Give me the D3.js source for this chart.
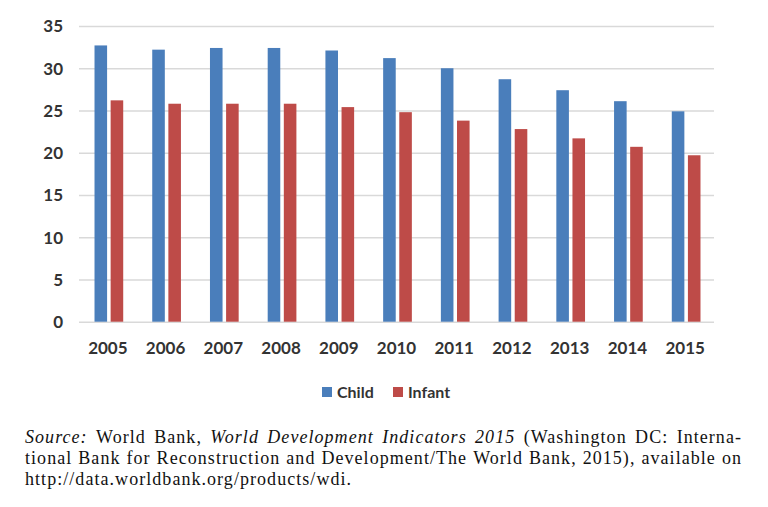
<!DOCTYPE html>
<html><head><meta charset="utf-8">
<script src="https://cdn.jsdelivr.net/npm/d3@7/dist/d3.min.js"></script>
<style>body{margin:0;background:#fff}svg{display:block}</style>
</head><body><svg id="c" width="768" height="507"></svg>
<script>
const years = ["2005","2006","2007","2008","2009","2010","2011","2012","2013","2014","2015"];
const child = [32.7,32.2,32.4,32.4,32.1,31.2,30.0,28.7,27.4,26.1,24.9];
const infant = [26.2,25.8,25.8,25.8,25.4,24.8,23.8,22.8,21.7,20.7,19.7];
const seriesNames = ["Child","Infant"];
const colors = ["#4a7ebb","#be4b48"];
const yTicks = [0,5,10,15,20,25,30,35];

const svg = d3.select("#c");
const pL = 79, pR = 714, pT = 26, pB = 321.7;
const x = d3.scaleBand().domain(years).range([pL,pR]).padding(0);
const x1 = d3.scaleBand().domain(seriesNames).range([1,x.bandwidth()+1]).paddingInner(0.22).paddingOuter(0.9);
const y = d3.scaleLinear().domain([0,35]).range([pB,pT]);
const font = "Lato, 'Open Sans', sans-serif";

// gridlines
const yAxis = d3.axisLeft(y).tickValues(yTicks).tickSize(-(pR-pL)).tickPadding(16);
const gy = svg.append("g").attr("transform",`translate(${pL},0)`).call(yAxis);
gy.select(".domain").remove();
gy.selectAll(".tick line").attr("stroke","#d9d9d9").attr("stroke-width",1.5);
gy.selectAll(".tick text").attr("font-family",font).attr("font-size",17).attr("font-weight","bold").attr("fill","#333").attr("dy","0.35em");

// bars
const data = years.map((yr,i)=>({yr, vals:[child[i],infant[i]]}));
const g = svg.append("g");
data.forEach(d=>{
  d.vals.forEach((v,j)=>{
    g.append("rect")
      .attr("x", x(d.yr)+x1(seriesNames[j]))
      .attr("y", y(v))
      .attr("width", x1.bandwidth())
      .attr("height", y(0)-y(v))
      .attr("fill", colors[j]);
  });
});

// x axis
const xAxis = d3.axisBottom(x).tickSize(0).tickPadding(20);
const gx = svg.append("g").attr("transform",`translate(0,${pB})`).call(xAxis);
gx.select(".domain").remove();
gx.selectAll(".tick text").attr("font-family",font).attr("font-size",17).attr("font-weight","bold").attr("fill","#333");

// legend
const leg = svg.append("g");
const legX = [322, 393];
seriesNames.forEach((n,j)=>{
  leg.append("rect").attr("x",legX[j]).attr("y",387).attr("width",10).attr("height",10).attr("fill",colors[j]);
  leg.append("text").attr("x",legX[j]+15).attr("y",392).attr("dy","0.35em")
    .attr("font-family",font).attr("font-size",16).attr("font-weight","bold").attr("fill","#333").text(n);
});

// source note (justified)
const serif = "'Liberation Serif', 'DejaVu Serif', serif";
const fs = 18;
const lines = [
  {just:true, segs:[["Source:",true],["World",false],["Bank,",false],["World",true],["Development",true],["Indicators",true],["2015",true],["(Washington",false],["DC:",false],["Interna-",false]]},
  {just:true, segs:"tional Bank for Reconstruction and Development/The World Bank, 2015), available on".split(" ").map(w=>[w,false])},
  {just:false, segs:[["http://data.worldbank.org/products/wdi.",false]]}
];
const noteLeft = 25, noteRight = 742, baselines = [443, 464, 485];
lines.forEach((ln,li)=>{
  const words = ln.segs.map(([t,it])=>{
    const el = svg.append("text").attr("y",baselines[li]).attr("font-family",serif).attr("font-size",fs)
      .attr("letter-spacing","1.05px")
      .attr("font-style",it?"italic":"normal").attr("fill","#111").text(t);
    return {el, w: el.node().getComputedTextLength()};
  });
  const total = d3.sum(words,d=>d.w);
  const gap = ln.just && words.length>1 ? (noteRight-noteLeft-total)/(words.length-1) : fs*0.25;
  let cx = noteLeft;
  words.forEach(d=>{ d.el.attr("x",cx); cx += d.w + gap; });
});
</script></body></html>
